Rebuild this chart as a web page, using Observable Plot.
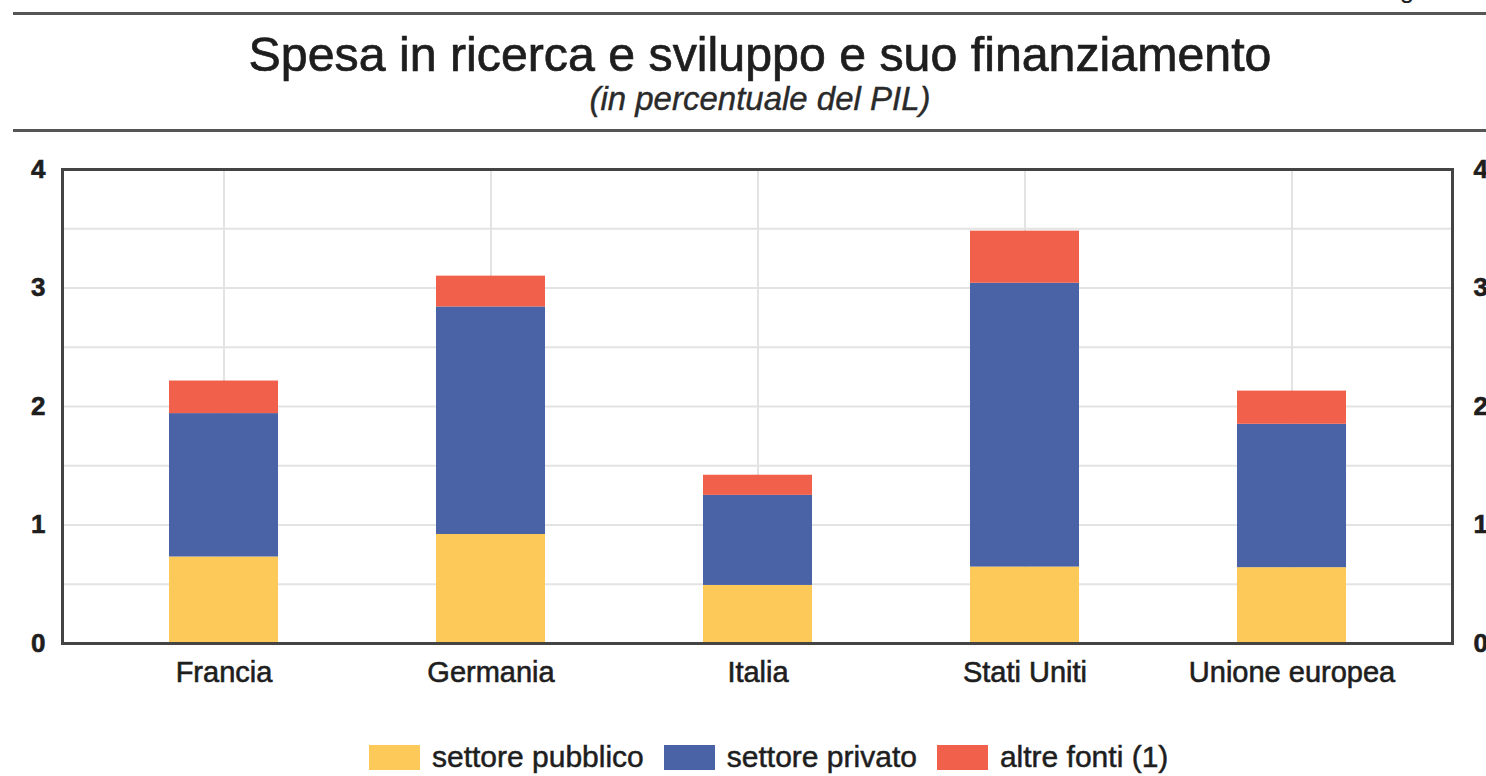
<!DOCTYPE html>
<html>
<head>
<meta charset="utf-8">
<script src="https://cdn.jsdelivr.net/npm/d3@7"></script>
<script src="https://cdn.jsdelivr.net/npm/@observablehq/plot@0.6"></script>
<style>
  html, body { margin: 0; padding: 0; background: #fff; overflow: hidden; }
  body { font-family: "Liberation Sans", Arial, sans-serif; color: #1e1e1e; }
  #page { position: relative; width: 1486px; height: 776px; overflow: hidden; }
  .hline { position: absolute; left: 13px; right: 0; height: 3px; background: #555; }
  #fig { position: absolute; left: 1378px; top: -24px; font-size: 26px; line-height: 26px; white-space: nowrap; }
  #title { position: absolute; left: 0; width: 1520px; top: 30px; text-align: center; font-size: 48.3px; line-height: 48px; white-space: nowrap; color: #1e1e1e; -webkit-text-stroke: 0.7px #1e1e1e; }
  #subtitle { position: absolute; left: 0; width: 1520px; top: 83px; text-align: center; font-size: 33px; line-height: 32px; font-style: italic; white-space: nowrap; color: #2a2a2a; -webkit-text-stroke: 0.4px #2a2a2a; }
  #chart { position: absolute; left: 0; top: 140px; }
  #chart svg text { stroke: #1e1e1e; stroke-width: 0.6px; paint-order: stroke; }
  #legend { position: absolute; left: 369px; top: 740px; display: flex; align-items: center; font-size: 30px; line-height: 34px; white-space: nowrap; -webkit-text-stroke: 0.5px #1e1e1e; }
  .item { display: flex; align-items: center; margin-right: 20px; }
  .sw { width: 51px; height: 25px; margin-right: 12px; }
</style>
</head>
<body>
<div id="page">
  <div id="fig">Figura</div>
  <div class="hline" style="top:12px"></div>
  <div id="title">Spesa in ricerca e sviluppo e suo finanziamento</div>
  <div id="subtitle">(in percentuale del PIL)</div>
  <div class="hline" style="top:129px"></div>
  <div id="chart"></div>
  <div id="legend"></div>
</div>
<script>
// ---- data ----
const categories = ["Francia", "Germania", "Italia", "Stati Uniti", "Unione europea"];
const series = ["settore pubblico", "settore privato", "altre fonti (1)"];
const pubblico = [0.73, 0.92, 0.49, 0.645, 0.64];
const privato  = [1.21, 1.92, 0.76, 2.395, 1.21];
const altre    = [0.275, 0.26, 0.17, 0.44, 0.28];
const colors = ["#FDC958", "#4A62A6", "#F0604A"];
const yTicks = [0, 1, 2, 3, 4];
const yGrid = [0.5, 1, 1.5, 2, 2.5, 3, 3.5];

const values = [pubblico, privato, altre];
const rows = categories.flatMap((c, i) =>
  series.map((s, j) => ({cat: c, serie: s, v: values[j][i]}))
);

const chart = Plot.plot({
  width: 1486,
  height: 563,
  marginLeft: 62,
  marginRight: 34,
  marginTop: 29,
  marginBottom: 60,
  style: {fontFamily: "'Liberation Sans', Arial, sans-serif", fontSize: "29px", color: "#1e1e1e", background: "#fff", overflow: "visible"},
  x: {domain: categories, paddingInner: 0.593, paddingOuter: 0.39, label: null},
  y: {domain: [0, 4], label: null},
  color: {domain: series, range: colors},
  marks: [
    Plot.gridY(yGrid, {stroke: "#e3e3e3", strokeOpacity: 1, strokeWidth: 2}),
    Plot.gridX(categories, {stroke: "#e3e3e3", strokeOpacity: 1, strokeWidth: 2}),
    Plot.barY(rows, Plot.stackY({x: "cat", y: "v", fill: "serie"})),
    Plot.frame({stroke: "#444", strokeWidth: 3}),
    Plot.axisY(yTicks, {anchor: "left", tickSize: 0, tickPadding: 17, tickFormat: d => String(d), fontSize: 26, fontWeight: "bold", label: null}),
    Plot.axisY(yTicks, {anchor: "right", tickSize: 0, tickPadding: 21, tickFormat: d => String(d), fontSize: 26, fontWeight: "bold", label: null}),
    Plot.axisX({tickSize: 0, tickPadding: 18, fontSize: 29, label: null})
  ]
});
document.getElementById("chart").appendChild(chart);

// legend
const legend = document.getElementById("legend");
series.forEach((s, i) => {
  const item = document.createElement("div");
  item.className = "item";
  const sw = document.createElement("div");
  sw.className = "sw";
  sw.style.background = colors[i];
  const t = document.createElement("span");
  t.textContent = s;
  item.appendChild(sw);
  item.appendChild(t);
  legend.appendChild(item);
});
</script>
</body>
</html>
